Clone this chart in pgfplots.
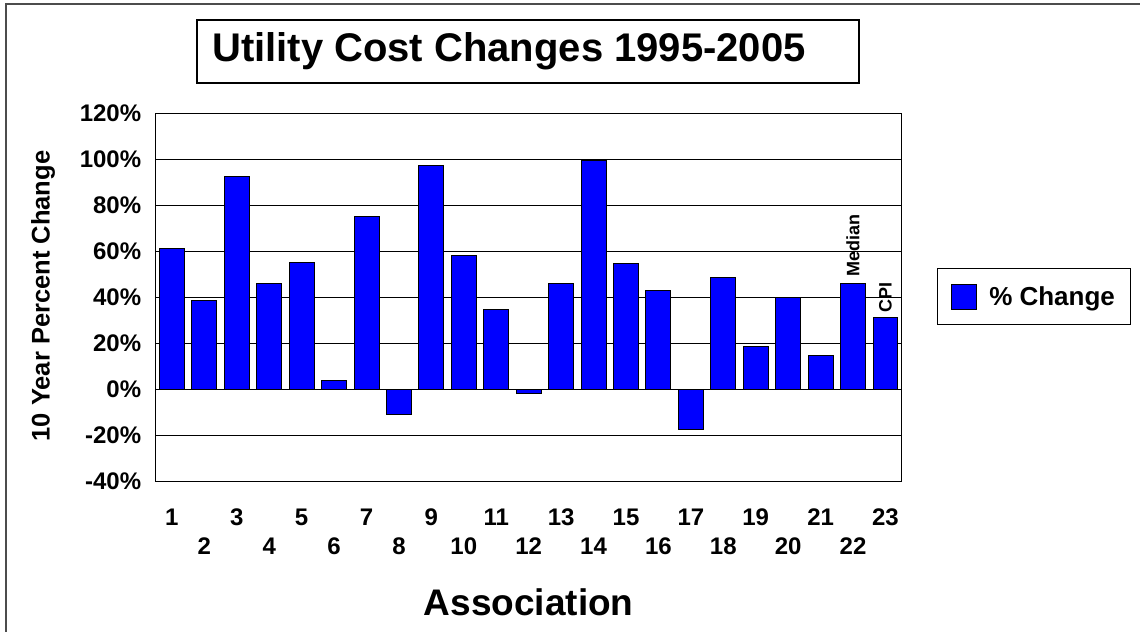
\documentclass[border=0pt]{standalone}
\usepackage{fontspec}
\setmainfont{Liberation Sans}
\usepackage{pgfplots}
\pgfplotsset{compat=1.18}
\begin{document}
\begin{tikzpicture}[x=1bp,y=1bp]
\useasboundingbox (0bp,0bp) rectangle (1140bp,632bp);
% outer frame (only left and top visible)
\draw[line width=2bp, black!70] (5.5bp,-20bp) -- (5.5bp,627.5bp) -- (1160bp,627.5bp);
% title box
\draw[line width=1.3bp] (197bp,612bp) rectangle (859bp,549bp);
\node[anchor=base west, inner sep=0pt, font=\bfseries\fontsize{40bp}{40bp}\selectfont] at (212bp,570bp) {Utility Cost Changes 1995-2005};
\begin{axis}[
  at={(155.7bp,150.7bp)}, anchor=south west,
  width=746bp, height=368bp, scale only axis,
  xmin=0.5, xmax=23.5, ymin=-40, ymax=120,
  ytick={-40,-20,...,120},
  yticklabels={-40\%,-20\%,0\%,20\%,40\%,60\%,80\%,100\%,120\%},
  xtick={1,3,...,23},
  extra x ticks={2,4,...,22},
  extra x tick style={xmajorgrids=false, xticklabel style={yshift=-29bp}},
  /pgf/number format/assume math mode=true,
  major tick length=0pt,
  ymajorgrids,
  grid style={black, line width=0.8bp},
  axis line style={line width=1.5bp},
  ticklabel style={font=\bfseries\fontsize{24bp}{24bp}\selectfont},
  yticklabel style={xshift=-11bp},
  xticklabel style={yshift=-24bp},
  ybar, bar width=0.77,
  legend style={at={(axis description cs:1.047,0.502)}, anchor=west,
    draw=black, line width=1bp, inner xsep=14bp, inner ysep=15bp,
    font=\bfseries\fontsize{26bp}{26bp}\selectfont},
  legend image code/.code={\draw[fill=blue, draw=black, line width=1bp] (3bp,-12bp) rectangle (28bp,13bp);},
  legend cell align=left,
  legend style={/tikz/every even column/.append style={column sep=4bp}},
  clip=false,
]
\addplot[fill=blue, draw=black, line width=1bp] coordinates {
 (1,61.0) (2,38.7) (3,92.4) (4,46.1) (5,55.3) (6,4.0) (7,75.3) (8,-10.9)
 (9,97.5) (10,58.3) (11,34.8) (12,-1.9) (13,46.1) (14,99.4) (15,54.8) (16,42.8)
 (17,-17.3) (18,48.4) (19,18.7) (20,40.0) (21,14.8) (22,46.1) (23,31.3)
};
\addlegendentry{\hspace{10bp}\% Change}
\node[rotate=90, anchor=west, inner sep=0pt, font=\bfseries\fontsize{18bp}{18bp}\selectfont] at (axis cs:22,49) {Median};
\node[rotate=90, anchor=west, inner sep=0pt, font=\bfseries\fontsize{18bp}{18bp}\selectfont] at (axis cs:23,33.5) {CPI};
\end{axis}
\node[rotate=90, font=\bfseries\fontsize{25.5bp}{25.5bp}\selectfont] at (43bp,336bp) {10 Year Percent Change};
\node[font=\bfseries\fontsize{37bp}{37bp}\selectfont] at (528.7bp,30bp) {Association};
\end{tikzpicture}
\end{document}
